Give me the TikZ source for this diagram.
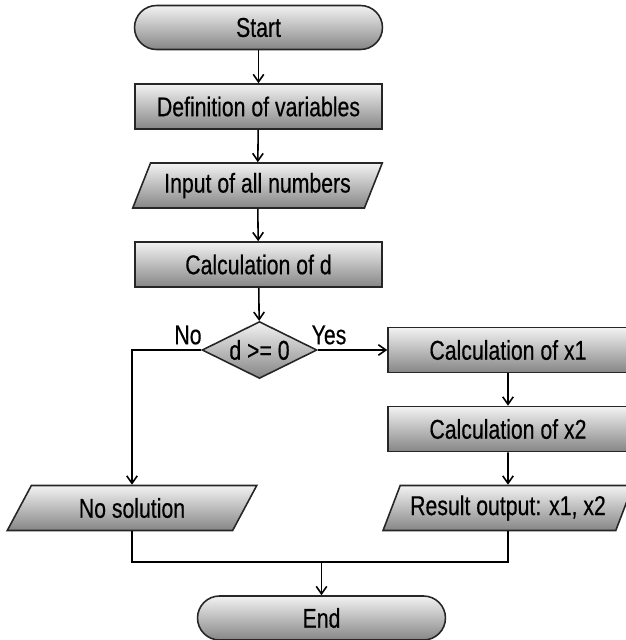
\documentclass[tikz,border=0pt]{standalone}
\usepackage{fontspec}
\setmainfont{Liberation Sans}[FakeStretch=0.78,FakeBold=0.4]
\usetikzlibrary{positioning,arrows.meta,shapes.geometric}

\begin{document}
\begin{tikzpicture}[x=0.02cm,y=-0.02cm,line width=0.9pt,
  font=\fontsize{15.5}{18}\selectfont,
  >={Straight Barb[length=1.5mm,width=2.1mm]},
  grad/.style={draw=black!85,top color=gray!10,bottom color=gray!95},
  term/.style={grad,rectangle,rounded corners=4.4mm,minimum width=4.96cm,minimum height=0.88cm},
  proc/.style={grad,rectangle,minimum width=4.94cm,minimum height=0.9cm},
  io/.style={grad,trapezium,trapezium left angle=66,trapezium right angle=114,
    trapezium stretches=true,minimum width=5cm,minimum height=0.9cm},
  dec/.style={grad,diamond,aspect=2,inner sep=0pt,minimum width=2.3cm,minimum height=1.14cm}]
\useasboundingbox (0,0) rectangle (626,640);
% main column
\node[term] (start) at (258.5,27.5) {Start};
\node[proc] (vars) at (258.5,106.5) {Definition of variables};
\node[io] (input) at (257.5,185.5) {Input of all numbers};
\node[proc] (calcd) at (258.5,264.5) {Calculation of d};
\node[dec] (cond) at (259.5,350) {d >= 0};
\node (no) at (188,335) {No};
\node (yes) at (329,335) {Yes};
% yes branch
\node[proc,minimum width=4.8cm] (x1) at (508,350) {Calculation of x1};
\node[proc,minimum width=4.8cm] (x2) at (508,429) {Calculation of x2};
\node[io] (result) at (508,508) {Result output: x1, x2};
% no branch
\node[io] (nosol) at (132,508) {No solution};
\node[term] (end) at (321.5,618) {End};
\coordinate (join) at (321.5,562);
\draw[->] (start) -- (vars);
\draw[->] (vars) -- (input);
\draw[->] (input) -- (calcd);
\draw[->] (calcd) -- (cond);
\draw[->] (cond.east) -- (x1.west);
\draw[->] (x1) -- (x2);
\draw[->] (x2) -- (result);
\draw[->] (cond.west) -| (nosol.north);
\draw (nosol.south) |- (join) -| (result.south);
\draw[->] (join) -- (end);
\end{tikzpicture}
\end{document}
